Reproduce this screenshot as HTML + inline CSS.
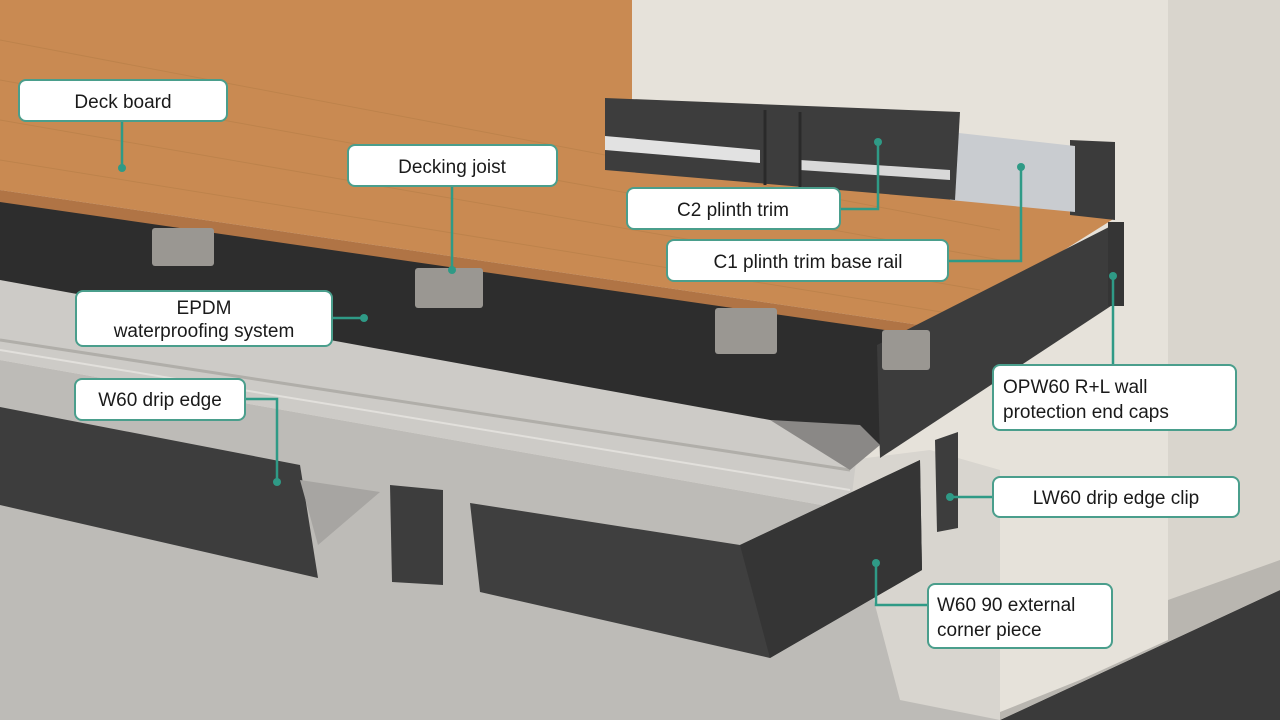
<!DOCTYPE html>
<html><head><meta charset="utf-8"><style>
html,body{margin:0;padding:0;width:1280px;height:720px;overflow:hidden;background:#e6e2da}
svg{display:block}
.lb{fill:#fff;stroke:#4a9e8c;stroke-width:2}
.t{font-family:"Liberation Sans",sans-serif;font-size:19px;fill:#1a1a1a}
.ln{stroke:#2f9a86;stroke-width:2.5;fill:none}
.d{fill:#2f9a86}
</style></head><body>
<svg width="1280" height="720" viewBox="0 0 1280 720">
<!-- wall -->
<rect x="0" y="0" width="1280" height="720" fill="#e6e2da"/>
<rect x="1168" y="0" width="112" height="720" fill="#d9d5cd"/>
<polygon points="1000,720 1280,590 1280,720" fill="#3a3a3a"/>
<polygon points="1080,680 1168,640 1168,600 1280,560 1280,590 1000,720 980,720" fill="#b9b6b0"/>
<rect x="450" y="0" width="182" height="20" fill="#4a4a4a"/>
<!-- concrete front face -->
<polygon points="0,360 850,510 1000,560 1000,720 0,720" fill="#bdbbb7"/>
<polygon points="850,460 930,450 1000,470 1000,720 900,700 850,510" fill="#d8d5cf"/>
<!-- slab top -->
<polygon points="0,280 860,430 850,510 0,360" fill="#cdcbc7"/>
<line x1="0" y1="340" x2="850" y2="470" stroke="#b0aea9" stroke-width="3"/>
<line x1="0" y1="350" x2="850" y2="490" stroke="#e2e0dc" stroke-width="2"/>
<!-- EPDM -->
<polygon points="0,195 940,330 885,350 880,445 860,430 770,420 0,280" fill="#2d2d2d"/>
<polygon points="770,420 860,425 880,445 850,470" fill="#8a8886"/>
<!-- deck -->
<polygon points="0,0 632,0 632,100 1115,218 940,328 0,190" fill="#c98a52"/>
<polygon points="0,190 940,328 940,338 0,202" fill="#b07445"/>
<g stroke="#b98049" stroke-width="1" opacity="0.7">
<line x1="0" y1="40" x2="1000" y2="230"/><line x1="0" y1="80" x2="1000" y2="260"/>
<line x1="0" y1="120" x2="980" y2="290"/><line x1="0" y1="160" x2="960" y2="315"/>
</g>
<!-- plinth trim -->
<polygon points="1070,140 1115,142 1115,220 1070,215" fill="#3b3b3b"/>
<polygon points="950,132 1075,146 1075,212 950,200" fill="#c9ccd0"/>
<polygon points="605,98 960,112 955,200 605,170" fill="#3d3d3d"/>
<polygon points="605,136 760,150 760,163 605,150" fill="#e2e2e2"/>
<polygon points="800,160 950,170 950,180 800,170" fill="#d8d8d8"/>
<line x1="765" y1="110" x2="765" y2="185" stroke="#2a2a2a" stroke-width="3"/>
<line x1="800" y1="112" x2="800" y2="188" stroke="#2a2a2a" stroke-width="3"/>
<!-- OPW60 panel -->
<polygon points="877,345 1113,225 1120,300 880,458" fill="#3c3c3c"/>
<rect x="1108" y="222" width="16" height="84" fill="#353535"/>
<!-- joists -->
<g fill="#9a9792">
<rect x="152" y="228" width="62" height="38" rx="3"/>
<rect x="415" y="268" width="68" height="40" rx="3"/>
<rect x="715" y="308" width="62" height="46" rx="3"/>
<rect x="882" y="330" width="48" height="40" rx="3"/>
</g>
<!-- drip edge left -->
<polygon points="0,407 300,465 318,578 0,505" fill="#3d3d3d"/>
<polygon points="300,480 380,492 318,545" fill="#a7a5a2"/>
<polygon points="390,485 443,490 443,585 392,582" fill="#3d3d3d"/>
<!-- corner piece -->
<polygon points="470,503 740,545 920,460 922,570 770,658 480,592" fill="#3f3f3f"/>
<polygon points="740,545 920,460 922,570 770,658" fill="#353535"/>
<polygon points="935,440 958,432 958,528 937,532" fill="#3d3d3d"/>
<!-- labels -->
<g>
<polyline class="ln" points="122,121 122,168"/><circle class="d" cx="122" cy="168" r="4"/>
<rect class="lb" x="19" y="80" width="208" height="41" rx="7"/><text class="t" x="123" y="108" text-anchor="middle">Deck board</text>

<polyline class="ln" points="452,186 452,270"/><circle class="d" cx="452" cy="270" r="4"/>
<rect class="lb" x="348" y="145" width="209" height="41" rx="7"/><text class="t" x="452" y="173" text-anchor="middle">Decking joist</text>

<polyline class="ln" points="840,209 878,209 878,142"/><circle class="d" cx="878" cy="142" r="4"/>
<rect class="lb" x="627" y="188" width="213" height="41" rx="7"/><text class="t" x="733" y="216" text-anchor="middle">C2 plinth trim</text>

<polyline class="ln" points="948,261 1021,261 1021,167"/><circle class="d" cx="1021" cy="167" r="4"/>
<rect class="lb" x="667" y="240" width="281" height="41" rx="7"/><text class="t" x="808" y="268" text-anchor="middle">C1 plinth trim base rail</text>

<polyline class="ln" points="332,318 364,318"/><circle class="d" cx="364" cy="318" r="4"/>
<rect class="lb" x="76" y="291" width="256" height="55" rx="7"/>
<text class="t" x="204" y="314" text-anchor="middle">EPDM</text><text class="t" x="204" y="337" text-anchor="middle">waterproofing system</text>

<polyline class="ln" points="245,399 277,399 277,482"/><circle class="d" cx="277" cy="482" r="4"/>
<rect class="lb" x="75" y="379" width="170" height="41" rx="7"/><text class="t" x="160" y="406" text-anchor="middle">W60 drip edge</text>

<polyline class="ln" points="1113,275 1113,365"/><circle class="d" cx="1113" cy="276" r="4"/>
<rect class="lb" x="993" y="365" width="243" height="65" rx="7"/>
<text class="t" x="1003" y="393">OPW60 R+L wall</text><text class="t" x="1003" y="418">protection end caps</text>

<polyline class="ln" points="993,497 950,497"/><circle class="d" cx="950" cy="497" r="4"/>
<rect class="lb" x="993" y="477" width="246" height="40" rx="7"/><text class="t" x="1116" y="504" text-anchor="middle">LW60 drip edge clip</text>

<polyline class="ln" points="928,605 876,605 876,563"/><circle class="d" cx="876" cy="563" r="4"/>
<rect class="lb" x="928" y="584" width="184" height="64" rx="7"/>
<text class="t" x="937" y="611">W60 90 external</text><text class="t" x="937" y="636">corner piece</text>
</g>
</svg>
</body></html>
